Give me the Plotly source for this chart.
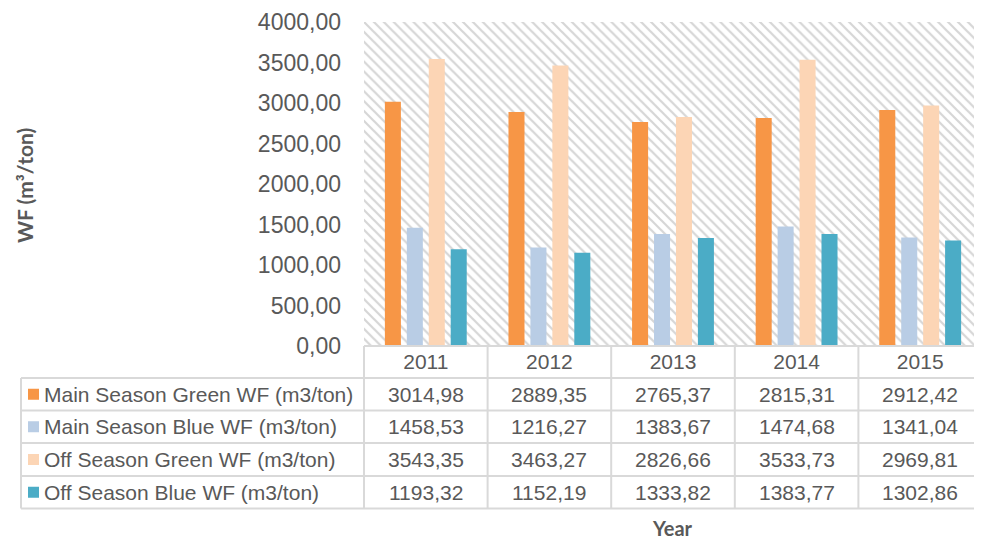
import plotly.graph_objects as go

years = ["2011", "2012", "2013", "2014", "2015"]
series_names = [
    "Main Season Green WF (m3/ton)",
    "Main Season Blue WF (m3/ton)",
    "Off Season Green WF (m3/ton)",
    "Off Season Blue WF (m3/ton)",
]
main_green = [3014.98, 2889.35, 2765.37, 2815.31, 2912.42]
main_blue = [1458.53, 1216.27, 1383.67, 1474.68, 1341.04]
off_green = [3543.35, 3463.27, 2826.66, 3533.73, 2969.81]
off_blue = [1193.32, 1152.19, 1333.82, 1383.77, 1302.86]
y_ticks = [0, 500, 1000, 1500, 2000, 2500, 3000, 3500, 4000]

series_values = [main_green, main_blue, off_green, off_blue]
colors = ["#F79646", "#B9CDE5", "#FCD5B5", "#4BACC6"]

OFF = 8  # browser body margin
W, H = 982 - OFF, 540 - OFF
L, R, T, B = 364 - OFF, 0, 22 - OFF, 194
PW, PH = W - L - R, H - T - B

def px(x):
    return (x - OFF - L) / PW

def py(y):
    return (OFF + T + PH - y) / PH

TXT = "#595959"
FONT = "Liberation Sans, Arial, sans-serif"
TFONT = 21

fig = go.Figure()

# hatched plot-area background (base axes, drawn beneath)
fig.add_trace(go.Bar(
    x=[0.5], y=[y_ticks[-1]], width=[1], xaxis="x", yaxis="y",
    marker=dict(color="white", line=dict(width=0),
                pattern=dict(shape="\\", fgcolor="#ADADAD", bgcolor="white",
                             size=7, solidity=0.32)),
    hoverinfo="skip", showlegend=False,
))

for name, vals, c in zip(series_names, series_values, colors):
    fig.add_trace(go.Bar(
        x=years, y=vals, name=name, xaxis="x2", yaxis="y2",
        marker=dict(color=c, line=dict(width=0)), showlegend=False,
    ))

shapes = []
annotations = []
line = dict(color="#D9D9D9", width=2)
left_x = 21
right_x = 980
plot_left = 364
col_w = PW / len(years)
row_tops = [346, 378, 410.5, 443, 476, 508.5]

shapes.append(dict(type="line", xref="paper", yref="paper", x0=px(plot_left), x1=px(right_x),
                   y0=py(row_tops[0]), y1=py(row_tops[0]), line=line))
for yv in row_tops[1:]:
    shapes.append(dict(type="line", xref="paper", yref="paper", x0=px(left_x), x1=px(right_x),
                       y0=py(yv), y1=py(yv), line=line))
shapes.append(dict(type="line", xref="paper", yref="paper", x0=px(left_x), x1=px(left_x),
                   y0=py(row_tops[1]), y1=py(row_tops[-1]), line=line))
for k in range(len(years)):
    xv = plot_left + k * col_w
    shapes.append(dict(type="line", xref="paper", yref="paper", x0=px(xv), x1=px(xv),
                       y0=py(row_tops[0]), y1=py(row_tops[-1]), line=line))
shapes.append(dict(type="line", xref="paper", yref="paper", x0=px(right_x), x1=px(right_x),
                   y0=py(row_tops[0]), y1=py(row_tops[-1]), line=line))

def fmt(v):
    return f"{v:.2f}".replace(".", ",")

for i, (name, vals, c) in enumerate(zip(series_names, series_values, colors)):
    yc = (row_tops[i + 1] + row_tops[i + 2]) / 2
    shapes.append(dict(type="rect", xref="paper", yref="paper", x0=px(28), x1=px(39),
                       y0=py(yc + 5.5), y1=py(yc - 5.5), fillcolor=c, line=dict(width=0)))
    annotations.append(dict(text=name, xref="paper", yref="paper", x=px(42), y=py(yc),
                            xanchor="left", yanchor="middle", showarrow=False,
                            font=dict(family=FONT, size=TFONT, color=TXT)))
    for k, v in enumerate(vals):
        annotations.append(dict(text=fmt(v), xref="paper", yref="paper",
                                x=px(plot_left + (k + 0.5) * col_w), y=py(yc),
                                xanchor="center", yanchor="middle", showarrow=False,
                                font=dict(family=FONT, size=TFONT, color=TXT)))

annotations.append(dict(text="<b>WF (m³/ton)</b>", xref="paper", yref="paper",
                        x=px(24), y=py(186), textangle=-90, showarrow=False,
                        xanchor="center", yanchor="middle",
                        font=dict(family="Lato, Open Sans, sans-serif", size=21, color=TXT)))
annotations.append(dict(text="<b>Year</b>", xref="paper", yref="paper",
                        x=px(672), y=py(528), showarrow=False,
                        xanchor="center", yanchor="middle",
                        font=dict(family="Lato, Open Sans, sans-serif", size=20, color=TXT)))

fig.update_layout(
    width=W, height=H,
    margin=dict(l=L, r=R, t=T, b=B, pad=0),
    paper_bgcolor="white", plot_bgcolor="white",
    barmode="group", bargap=0.29, bargroupgap=0.27,
    separators=",.",
    xaxis=dict(range=[0, 1], visible=False, fixedrange=True),
    yaxis=dict(range=[0, y_ticks[-1]], visible=False, fixedrange=True),
    xaxis2=dict(type="category", overlaying="x", anchor="y2", side="bottom",
                showgrid=False, zeroline=False, showline=False, ticks="",
                tickfont=dict(family=FONT, size=TFONT, color=TXT), ticklabelstandoff=1),
    yaxis2=dict(overlaying="y", anchor="x2", side="left", range=[0, y_ticks[-1]],
                tickvals=y_ticks, tickformat=".2f", showgrid=False, zeroline=False,
                showline=False, ticks="", ticklabelstandoff=22,
                tickfont=dict(family=FONT, size=23, color=TXT)),
    shapes=shapes, annotations=annotations,
    showlegend=False,
)

fig.write_html("out.html")
